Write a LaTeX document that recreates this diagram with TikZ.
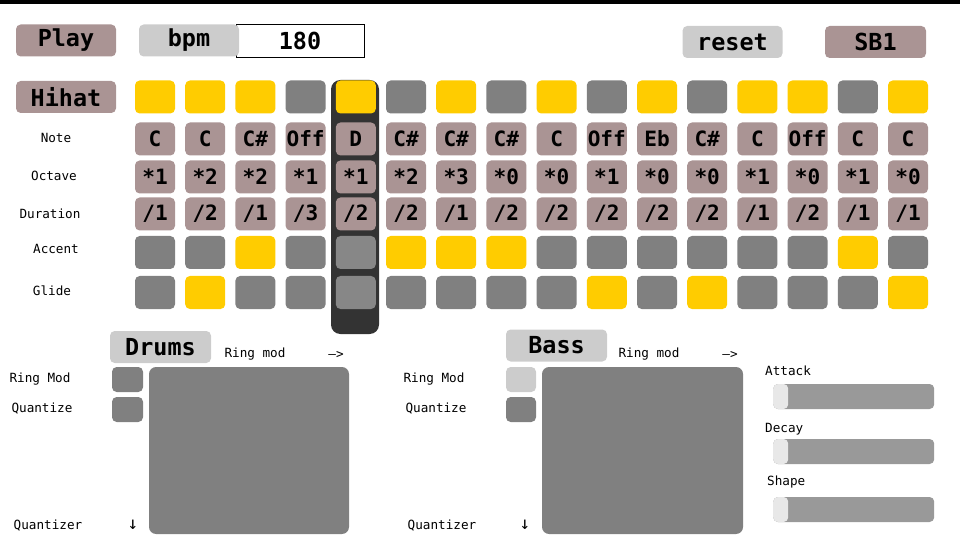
\documentclass[tikz,border=0pt]{standalone}
\usepackage{fontspec}
\newfontfamily\mono{DejaVu Sans Mono}
\definecolor{mauve}{HTML}{AA9494}
\definecolor{lgray}{HTML}{CCCCCC}
\definecolor{cG}{HTML}{808080}
\definecolor{cH}{HTML}{878787}
\definecolor{cY}{HTML}{FFCC00}
\definecolor{dark}{HTML}{333333}
\definecolor{track}{HTML}{999999}
\definecolor{knob}{HTML}{E8E8E8}
\tikzset{
  sz/.style 2 args={minimum width=#1*0.03cm, minimum height=#2*0.03cm, inner sep=0pt, rounded corners=4pt},
  bigtxt/.style={font=\mono\bfseries\fontsize{20}{20}\selectfont},
  celltxt/.style={font=\mono\bfseries\fontsize{18}{18}\selectfont},
  lbl/.style={font=\mono\fontsize{10.8}{11}\selectfont, inner sep=0pt},
  arr/.style={font=\mono\fontsize{15}{15}\selectfont, inner sep=0pt},
  cell/.style={sz={40}{33}, celltxt},
}
\begin{document}
\begin{tikzpicture}[x=0.03cm,y=-0.03cm]
\useasboundingbox (0,0) rectangle (960,544);
\fill[black] (0,0) rectangle (960,4);
% top buttons
\node[sz={100}{32}, fill=mauve, bigtxt] (play) at (66,40.5) {Play};
\draw[black, line width=0.6pt] (236,24) rectangle (364,57);
\node[inner sep=0pt, bigtxt] (bpmval) at (300,41) {180};
\node[sz={100}{32}, fill=lgray, bigtxt] (bpm) at (189,40.5) {bpm};
\node[sz={100}{32}, fill=lgray, bigtxt] (reset) at (732.5,42) {reset};
\node[sz={101}{32}, fill=mauve, bigtxt] (sb) at (875.5,42) {SB1};
\node[sz={100}{32}, fill=mauve, bigtxt] (hihat) at (66,97) {Hihat};
% highlight bar
\fill[dark, rounded corners=8pt] (331,80) rectangle (379,334);
% row labels
\node[lbl] (lnote) at (56,138) {Note};
\node[lbl] (loct) at (54,176) {Octave};
\node[lbl] (ldur) at (50,214) {Duration};
\node[lbl] (lacc) at (56,249) {Accent};
\node[lbl] (lgl) at (52,291) {Glide};
% hihat row
\foreach \c [count=\i from 0] in {Y,Y,Y,G,Y,G,Y,G,Y,G,Y,G,Y,Y,G,Y}
  \node[cell, fill=c\c] (hh-\i) at (155+50.2*\i,97) {};
% note row
\foreach \t [count=\i from 0] in {C,C,C\#,Off,D,C\#,C\#,C\#,C,Off,Eb,C\#,C,Off,C,C}
  \node[cell, fill=mauve] (nt-\i) at (155+50.2*\i,139) {\t};
% octave row
\foreach \t [count=\i from 0] in {1,2,2,1,1,2,3,0,0,1,0,0,1,0,1,0}
  \node[cell, fill=mauve] (oc-\i) at (155+50.2*\i,177) {*\t};
% duration row
\foreach \t [count=\i from 0] in {1,2,1,3,2,2,1,2,2,2,2,2,1,2,1,1}
  \node[cell, fill=mauve] (du-\i) at (155+50.2*\i,214) {/\t};
% accent row
\foreach \c [count=\i from 0] in {G,G,Y,G,H,Y,Y,Y,G,G,G,G,G,G,Y,G}
  \node[cell, fill=c\c] (ac-\i) at (155+50.2*\i,252.5) {};
% glide row
\foreach \c [count=\i from 0] in {G,Y,G,G,H,G,G,G,G,Y,G,Y,G,G,G,Y}
  \node[cell, fill=c\c] (gl-\i) at (155+50.2*\i,292.5) {};
% drums section
\node[sz={101}{32}, fill=lgray, bigtxt] (drums) at (160.5,347) {Drums};
\node[lbl] (drm) at (255,354) {Ring mod};
\node[lbl] (dra) at (336,355) {–>};
\node[lbl] (drl) at (40,379) {Ring Mod};
\node[lbl] (dql) at (42,409) {Quantize};
\node[lbl] (dqz) at (48,526) {Quantizer};
\node[arr] (dar) at (133,525) {↓};
\node[sz={31}{25}, fill=cG] (drs) at (127.5,379.5) {};
\node[sz={31}{25}, fill=cG] (dqs) at (127.5,409.5) {};
\node[sz={200}{167}, fill=cG, rounded corners=6pt] (dpad) at (249,450.5) {};
% bass section
\node[sz={101}{32}, fill=lgray, bigtxt] (bass) at (556.5,345.5) {Bass};
\node[lbl] (brm) at (649,354) {Ring mod};
\node[lbl] (bra) at (730,355) {–>};
\node[lbl] (brl) at (434,379) {Ring Mod};
\node[lbl] (bql) at (436,409) {Quantize};
\node[lbl] (bqz) at (442,526) {Quantizer};
\node[arr] (bar) at (525,525) {↓};
\node[sz={30}{25}, fill=lgray] (brs) at (521,379.5) {};
\node[sz={30}{25}, fill=cG] (bqs) at (521,409.5) {};
\node[sz={201}{167}, fill=cG, rounded corners=6pt] (bpad) at (642.5,450.5) {};
% sliders
\node[lbl, anchor=west] (latk) at (765,371) {Attack};
\node[lbl, anchor=west] (ldec) at (765,429) {Decay};
\node[lbl, anchor=west] (lshp) at (767,482) {Shape};
\foreach \y/\n in {396.5/atk,451.5/dec,509.5/shp}{
  \node[sz={161}{25}, fill=track, anchor=west] (s\n) at (773,\y) {};
  \node[sz={15}{25}, fill=knob, anchor=west] (k\n) at (773,\y) {};
}
\end{tikzpicture}
\end{document}
